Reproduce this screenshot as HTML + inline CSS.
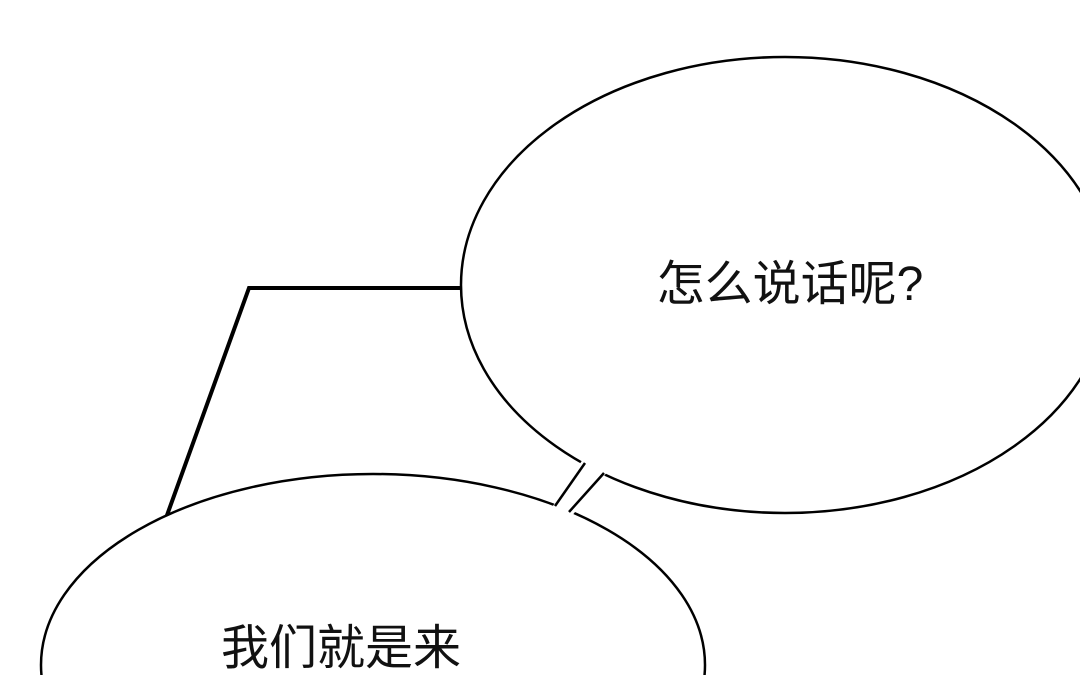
<!DOCTYPE html>
<html><head><meta charset="utf-8"><style>html,body{margin:0;padding:0;background:#fff;width:1080px;height:675px;overflow:hidden}svg{display:block}</style></head>
<body>
<svg width="1080" height="675" viewBox="0 0 1080 675" xmlns="http://www.w3.org/2000/svg">
<rect width="1080" height="675" fill="#fff"/>
<polyline points="463,288 249,288 166,518" fill="none" stroke="#000" stroke-width="4"/>
<ellipse cx="785" cy="285" rx="324" ry="228" fill="#fff" stroke="#000" stroke-width="2.5"/>
<ellipse cx="373" cy="665" rx="332" ry="191" fill="#fff" stroke="#000" stroke-width="2.5"/>
<polygon points="583,459 608,471 571,517 551,509" fill="#fff"/>
<line x1="585" y1="463" x2="555" y2="506" stroke="#000" stroke-width="2.5"/>
<line x1="604" y1="473" x2="569" y2="512" stroke="#000" stroke-width="2.5"/>
<text x="790" y="300" font-size="48" text-anchor="middle" font-family="Liberation Sans, Noto Sans CJK SC, sans-serif" fill="#111">怎么说话呢?</text>
<text x="341" y="664" font-size="48" text-anchor="middle" font-family="Liberation Sans, Noto Sans CJK SC, sans-serif" fill="#111">我们就是来</text>
</svg>
</body></html>
